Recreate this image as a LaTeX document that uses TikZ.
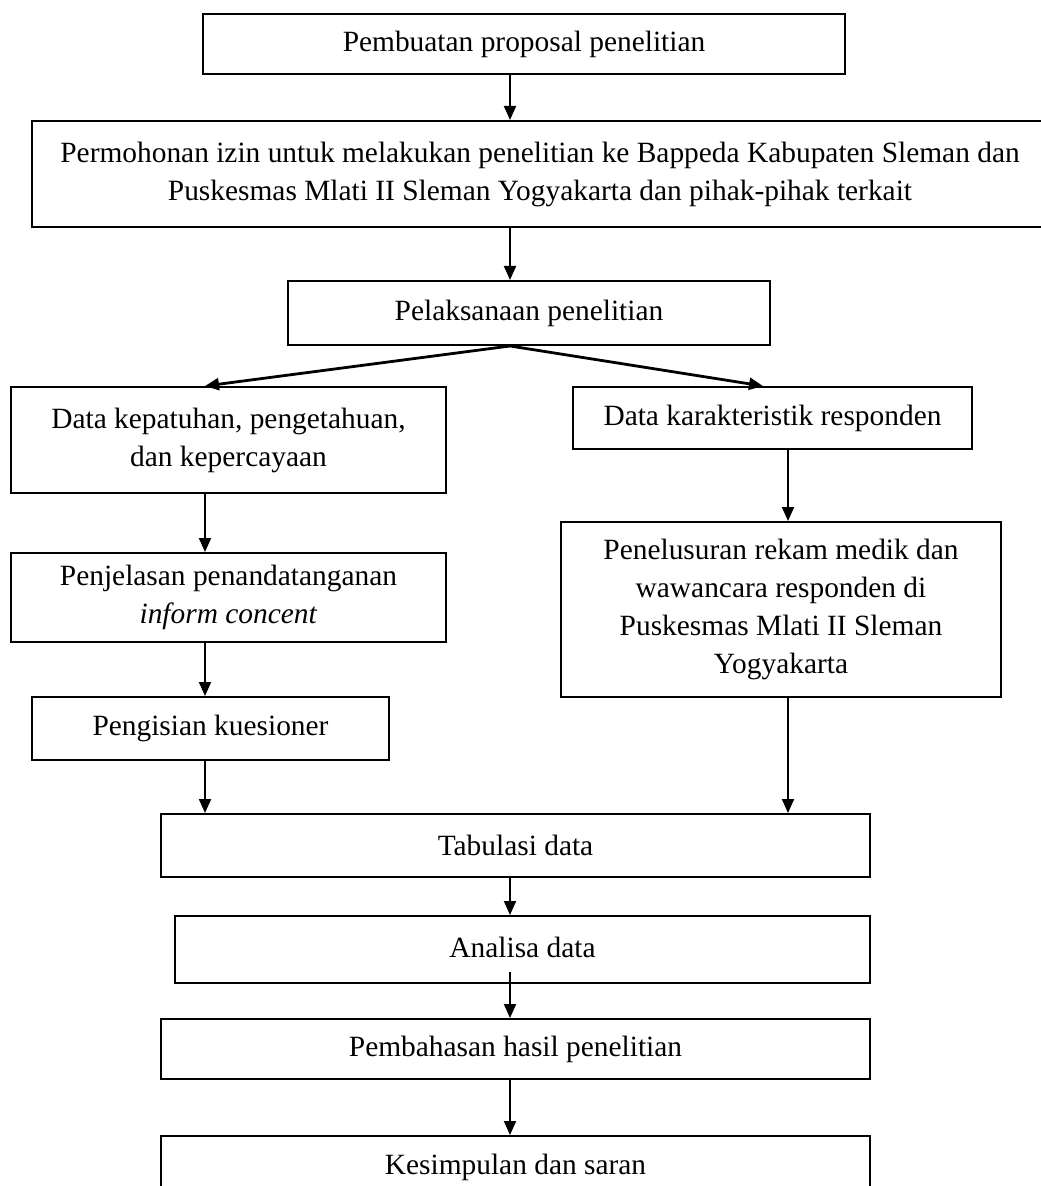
\documentclass[tikz,border=0pt]{standalone}
\usepackage{fontspec}
\setmainfont{Liberation Serif}
\usetikzlibrary{arrows.meta,calc}

\tikzset{every picture/.style={line width=1pt}}
\tikzset{
  stepbox/.style={draw, rectangle, inner sep=0pt, align=center,
    font=\fontsize{14.7}{19}\selectfont},
  arr/.style={-{Triangle[length=7pt,width=6pt]}},
}

\begin{document}
\begin{tikzpicture}[x=0.5pt,y=0.5pt,yscale=-1,xscale=1]
	\useasboundingbox (0,0) rectangle (1040,1186);

	%Columns of the connectors
	\coordinate (mid) at (510,0);
	\coordinate (lcol) at (205,0);
	\coordinate (rcol) at (788,0);
	\coordinate (rtip) at (763,0);

	%Shape: Rectangle [Pembuatan]
	\node [stepbox, minimum width=321pt, minimum height=30pt] (prop) at (524,44) {Pembuatan proposal penelitian};
	%Shape: Rectangle [Permohonan]
	\node [stepbox, minimum width=508pt, minimum height=53pt] (izin) at (540,174) {Permohonan izin untuk melakukan penelitian ke Bappeda Kabupaten Sleman dan\\Puskesmas Mlati II Sleman Yogyakarta dan pihak-pihak terkait};
	%Shape: Rectangle [Pelaksanaan]
	\node [stepbox, minimum width=241pt, minimum height=32pt] (laks) at (529,313) {\raisebox{2pt}{Pelaksanaan penelitian}};
	%Shape: Rectangle [Data kepatuhan]
	\node [stepbox, minimum width=217.5pt, minimum height=53pt] (patuh) at (228.5,440) {Data kepatuhan, pengetahuan,\\dan kepercayaan};
	%Shape: Rectangle [Data karakteristik]
	\node [stepbox, minimum width=199.5pt, minimum height=31pt] (karak) at (772.5,418) {Data karakteristik responden};
	%Shape: Rectangle [Penjelasan]
	\node [stepbox, minimum width=217.5pt, minimum height=44.5pt] (jelas) at (228.5,597.5) {Penjelasan penandatanganan\\\textit{inform concent}};
	%Shape: Rectangle [Penelusuran]
	\node [stepbox, minimum width=220pt, minimum height=87.5pt] (telus) at (781,609.5) {Penelusuran rekam medik dan\\wawancara responden di\\Puskesmas Mlati II Sleman\\Yogyakarta};
	%Shape: Rectangle [Pengisian]
	\node [stepbox, minimum width=178.5pt, minimum height=31.5pt] (isi) at (210.5,728.5) {Pengisian kuesioner};
	%Shape: Rectangle [Tabulasi]
	\node [stepbox, minimum width=354.5pt, minimum height=31.5pt] (tabul) at (515.5,845.5) {Tabulasi data};
	%Shape: Rectangle [Analisa]
	\node [stepbox, minimum width=347.5pt, minimum height=33.5pt] (anal) at (522.5,949.5) {\raisebox{2pt}{Analisa data}};
	%Shape: Rectangle [Pembahasan]
	\node [stepbox, minimum width=354.5pt, minimum height=30pt] (bahas) at (515.5,1049) {Pembahasan hasil penelitian};
	%Shape: Rectangle [Kesimpulan]
	\node [stepbox, minimum width=354.5pt, minimum height=31pt] (simpul) at (515.5,1167) {Kesimpulan dan saran};

	%Straight Lines [middle column]
	\draw [arr] (prop.south -| mid) -- (izin.north -| mid);
	\draw [arr] (izin.south -| mid) -- (laks.north -| mid);
	\draw [arr] (tabul.south -| mid) -- (anal.north -| mid);
	\draw [arr] ($(anal.south -| mid)+(0,-12)$) -- (bahas.north -| mid);
	\draw [arr] (bahas.south -| mid) -- (simpul.north -| mid);
	%Straight Lines [branches]
	\draw [arr, line width=1.4pt] (laks.south -| mid) -- (patuh.north -| lcol);
	\draw [arr, line width=1.4pt] (laks.south -| mid) -- (karak.north -| rtip);
	%Straight Lines [left column]
	\draw [arr] (patuh.south -| lcol) -- (jelas.north -| lcol);
	\draw [arr] (jelas.south -| lcol) -- (isi.north -| lcol);
	\draw [arr] (isi.south -| lcol) -- (tabul.north -| lcol);
	%Straight Lines [right column]
	\draw [arr] (karak.south -| rcol) -- (telus.north -| rcol);
	\draw [arr] (telus.south -| rcol) -- (tabul.north -| rcol);

\end{tikzpicture}
\end{document}
